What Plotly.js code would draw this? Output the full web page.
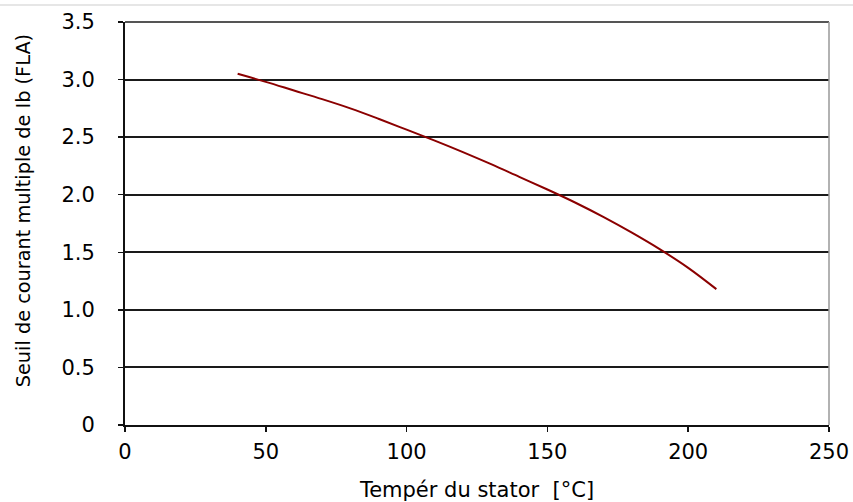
<!DOCTYPE html>
<html>
<head>
<meta charset="utf-8">
<script src="https://cdn.plot.ly/plotly-3.0.1.min.js"></script>
<style>html,body{margin:0;padding:0;background:#fff;}#chart{width:853px;height:502px;}</style>
</head>
<body>
<div id="chart"></div>
<script>
const temperature = [40, 50, 60, 70, 80, 90, 100, 110, 120, 130, 140, 150, 160, 170, 180, 190, 200, 210];
const threshold = [3.05, 2.98, 2.905, 2.83, 2.75, 2.66, 2.565, 2.47, 2.37, 2.265, 2.155, 2.045, 1.93, 1.805, 1.67, 1.525, 1.365, 1.18];
const xTicks = [0, 50, 100, 150, 200, 250];
const yTicks = [0, 0.5, 1.0, 1.5, 2.0, 2.5, 3.0, 3.5];
const yTickLabels = ['0', '0.5', '1.0', '1.5', '2.0', '2.5', '3.0', '3.5'];
const xTitle = 'Tempér du stator\u00a0\u00a0[°C]';
const yTitle = 'Seuil de courant multiple de Ib (FLA)';

const tickFont = {family: 'DejaVu Sans, sans-serif', size: 21, color: '#000'};
const xTitleFont = {family: 'DejaVu Sans, sans-serif', size: 21, color: '#000'};
const yTitleFont = {family: 'DejaVu Sans, sans-serif', size: 19.3, color: '#000'};

Plotly.newPlot('chart', [{
  x: temperature, y: threshold, type: 'scatter', mode: 'lines',
  line: {color: '#8b0000', width: 2, shape: 'spline', smoothing: 1},
  hoverinfo: 'skip'
}], {
  width: 853, height: 502,
  margin: {l: 125, r: 24, t: 22, b: 77},
  paper_bgcolor: '#fff', plot_bgcolor: '#fff',
  showlegend: false,
  font: tickFont,
  xaxis: {
    range: [0, 250], tickvals: xTicks, ticktext: xTicks.map(String),
    showgrid: false, zeroline: false,
    showline: true, linecolor: '#111', linewidth: 2,
    ticks: 'outside', ticklen: 5, tickwidth: 1.5, tickcolor: '#111',
    tickfont: tickFont, ticklabelstandoff: 2,
    title: {text: xTitle, font: xTitleFont, standoff: 22}
  },
  yaxis: {
    range: [0, 3.5], tickvals: yTicks, ticktext: yTickLabels,
    showgrid: true, gridcolor: '#1a1a1a', gridwidth: 2, zeroline: false,
    showline: true, linecolor: '#111', linewidth: 2,
    ticks: 'outside', ticklen: 5, tickwidth: 1.5, tickcolor: '#111',
    tickfont: tickFont, ticklabelstandoff: 19
  },
  annotations: [{
    text: yTitle, font: yTitleFont, textangle: -90, showarrow: false,
    xref: 'paper', yref: 'paper', x: -0.144, y: 0.532,
    xanchor: 'center', yanchor: 'middle'
  }],
  shapes: [
    {type: 'line', xref: 'paper', yref: 'paper', x0: 0, x1: 1, y0: 1, y1: 1, line: {color: '#555', width: 2}},
    {type: 'line', xref: 'paper', yref: 'paper', x0: 1, x1: 1, y0: 0, y1: 1, line: {color: '#999', width: 1.5}},
    {type: 'line', xref: 'paper', yref: 'paper', x0: -0.2, x1: 1.05, y0: 1.042, y1: 1.042, line: {color: '#e6e6e6', width: 2}}
  ]
}, {staticPlot: true});
</script>
</body>
</html>
